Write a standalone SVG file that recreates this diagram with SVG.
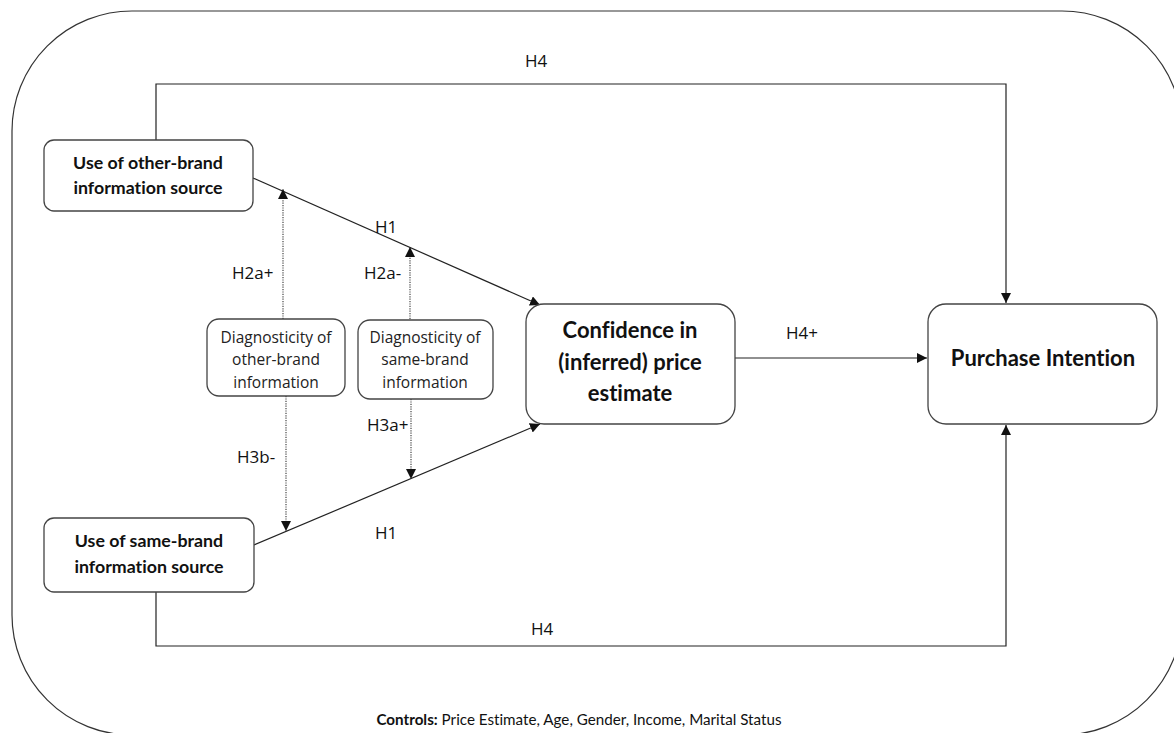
<svg xmlns="http://www.w3.org/2000/svg" width="1174" height="733" viewBox="0 0 1174 733">
<style>
text{font-variant-ligatures:none;font-feature-settings:"liga" 0,"dlig" 0}
.box{fill:#fff;stroke:#444;stroke-width:1.3}
.frame{fill:none;stroke:#333;stroke-width:1.2}
.ln{fill:none;stroke:#222;stroke-width:1.2}
.dot{fill:none;stroke:#444;stroke-width:1.2;stroke-dasharray:1.2 1.2}
.lbl{font-family:"Open Sans",sans-serif;font-size:17px;fill:#111}
.bn{font-family:Lato,"Liberation Sans",sans-serif;font-weight:bold;font-size:17.8px;fill:#111;text-anchor:middle}
.bb{font-family:Lato,"Liberation Sans",sans-serif;font-weight:bold;font-size:22px;fill:#111;text-anchor:middle}
.dg{font-family:"Open Sans",sans-serif;font-size:15.5px;fill:#222;text-anchor:middle}
.ctl{font-family:Lato,"Liberation Sans",sans-serif;font-size:15.2px;fill:#111;text-anchor:middle}
</style>
<defs>
<marker id="ah" viewBox="0 0 10 10" refX="10" refY="5" markerWidth="10" markerHeight="10" markerUnits="userSpaceOnUse" orient="auto">
<path d="M0,0 L10,5 L0,10 z" fill="#111"/>
</marker>
</defs>
<rect class="frame" x="12" y="11" width="1170" height="724" rx="120" ry="120"/>
<g id="connectors">
<polyline class="ln" points="156,140 156,84 1006,84 1006,303" marker-end="url(#ah)"/>
<polyline class="ln" points="156,592 156,646 1006,646 1006,425" marker-end="url(#ah)"/>
<line class="ln" x1="735" y1="358" x2="927" y2="358" marker-end="url(#ah)"/>
<line class="ln" x1="253" y1="178" x2="540" y2="305" marker-end="url(#ah)"/>
<line class="ln" x1="254" y1="545" x2="540" y2="424" marker-end="url(#ah)"/>
<line class="dot" x1="283" y1="319" x2="283" y2="189" marker-end="url(#ah)"/>
<line class="dot" x1="286" y1="396" x2="286" y2="531" marker-end="url(#ah)"/>
<line class="dot" x1="410" y1="319" x2="410" y2="247" marker-end="url(#ah)"/>
<line class="dot" x1="411" y1="399" x2="411" y2="479" marker-end="url(#ah)"/>
<text class="lbl" x="525" y="67">H4</text>
<text class="lbl" x="375" y="233">H1</text>
<text class="lbl" x="232" y="279">H2a+</text>
<text class="lbl" x="364" y="279">H2a-</text>
<text class="lbl" x="367" y="431">H3a+</text>
<text class="lbl" x="237" y="463">H3b-</text>
<text class="lbl" x="375" y="539">H1</text>
<text class="lbl" x="531" y="635">H4</text>
<text class="lbl" x="786" y="339">H4+</text>
</g>
<g id="other-source">
<rect class="box" x="44" y="140" width="209" height="71" rx="10"/>
<text class="bn" x="148" y="169">Use of other-brand</text>
<text class="bn" x="148" y="194">information source</text>
</g>
<g id="same-source">
<rect class="box" x="44" y="518" width="210" height="74" rx="10"/>
<text class="bn" x="149" y="547">Use of same-brand</text>
<text class="bn" x="149" y="573">information source</text>
</g>
<g id="diag-other">
<rect class="box" x="207" y="319" width="138" height="77" rx="12"/>
<text class="dg" x="276" y="343">Diagnosticity of</text>
<text class="dg" x="276" y="365">other-brand</text>
<text class="dg" x="276" y="388">information</text>
</g>
<g id="diag-same">
<rect class="box" x="358" y="320" width="135" height="79" rx="12"/>
<text class="dg" x="425" y="343">Diagnosticity of</text>
<text class="dg" x="425" y="365">same-brand</text>
<text class="dg" x="425" y="388">information</text>
</g>
<g id="confidence">
<rect class="box" x="526" y="304" width="209" height="120" rx="18"/>
<text class="bb" x="630" y="338">Confidence in</text>
<text class="bb" x="630" y="370">(inferred) price</text>
<text class="bb" x="630" y="401">estimate</text>
</g>
<g id="purchase">
<rect class="box" x="928" y="304" width="229" height="120" rx="18"/>
<text class="bb" x="1043" y="366">Purchase Intention</text>
</g>
<g id="controls">
<text class="ctl" x="579" y="725"><tspan font-weight="bold">Controls:</tspan> Price Estimate, Age, Gender, Income, Marital Status</text>
</g>
</svg>
